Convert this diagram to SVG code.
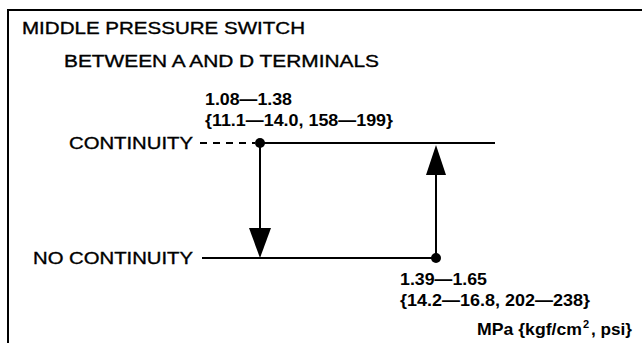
<svg xmlns="http://www.w3.org/2000/svg" width="642" height="343" viewBox="0 0 642 343">
  <defs>
    <style>
      .lbl { font-family: "Liberation Sans", Arial, sans-serif; font-size: 17px; fill: #000; stroke: #000; stroke-width: 0.35; }
      .num { font-family: "Liberation Sans", Arial, sans-serif; font-size: 16.5px; font-weight: bold; fill: #000; }
      .sup { font-family: "Liberation Sans", Arial, sans-serif; font-size: 11px; font-weight: bold; fill: #000; }
      .ln { stroke: #000; stroke-width: 2; fill: none; }
      .dash { stroke: #000; stroke-width: 2; fill: none; stroke-dasharray: 7 6; }
      .dot { fill: #000; }
      .head { fill: #000; }
    </style>
  </defs>
  <rect width="642" height="343" fill="#fff"/>
  <path class="ln" d="M8,350 V10 H650"/>

  <g id="title">
    <text class="lbl" x="22" y="34" textLength="283" lengthAdjust="spacingAndGlyphs">MIDDLE PRESSURE SWITCH</text>
    <text class="lbl" x="64" y="67" textLength="315" lengthAdjust="spacingAndGlyphs">BETWEEN A AND D TERMINALS</text>
  </g>

  <g id="continuity">
    <text class="lbl" x="69" y="149" textLength="124" lengthAdjust="spacingAndGlyphs">CONTINUITY</text>
    <line class="dash" x1="200" y1="143" x2="255" y2="143"/>
    <line class="ln" x1="260" y1="143" x2="495" y2="143"/>
  </g>

  <g id="no-continuity">
    <text class="lbl" x="33" y="264" textLength="160" lengthAdjust="spacingAndGlyphs">NO CONTINUITY</text>
    <line class="ln" x1="202" y1="258" x2="436" y2="258"/>
  </g>

  <g id="off-point">
    <circle class="dot" cx="260" cy="143" r="5"/>
    <text class="num" x="205" y="105" textLength="87" lengthAdjust="spacingAndGlyphs">1.08—1.38</text>
    <text class="num" x="205" y="126" textLength="188" lengthAdjust="spacingAndGlyphs">{11.1—14.0, 158—199}</text>
  </g>

  <g id="on-point">
    <circle class="dot" cx="436" cy="258" r="5"/>
    <text class="num" x="400" y="285" textLength="87" lengthAdjust="spacingAndGlyphs">1.39—1.65</text>
    <text class="num" x="400" y="306" textLength="190" lengthAdjust="spacingAndGlyphs">{14.2—16.8, 202—238}</text>
  </g>

  <g id="connectors">
    <line class="ln" x1="260" y1="143" x2="260" y2="232"/>
    <polygon class="head" points="249,228 271,228 260,258"/>
    <line class="ln" x1="436" y1="258" x2="436" y2="170"/>
    <polygon class="head" points="426,175 446,175 436,145"/>
  </g>

  <g id="units">
    <text class="num" x="477" y="335" textLength="105" lengthAdjust="spacingAndGlyphs">MPa {kgf/cm</text>
    <text class="sup" x="583" y="328">2</text>
    <text class="num" x="591" y="335" textLength="41" lengthAdjust="spacingAndGlyphs">, psi}</text>
  </g>
</svg>
